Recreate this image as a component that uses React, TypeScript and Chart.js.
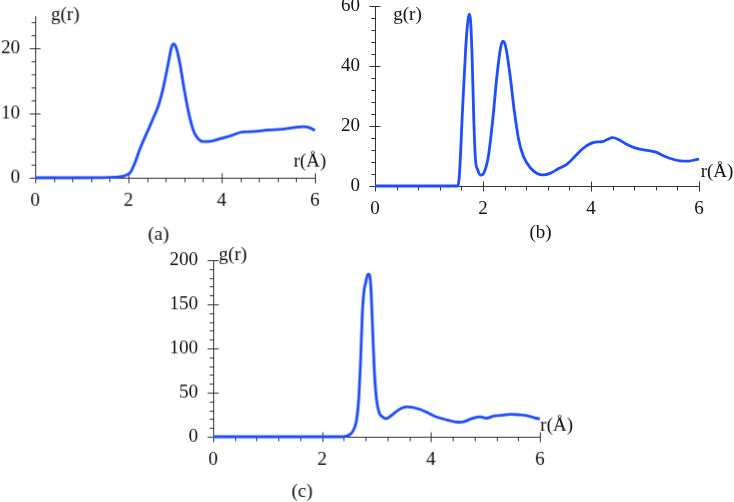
import React, { useEffect, useRef } from "react";
import { Chart, registerables } from "chart.js";

Chart.register(...registerables);

// ---------- data ----------
const xTickValues = [0, 2, 4, 6];

const rA = [0, 1.0, 1.6, 1.8, 1.95, 2.05, 2.15, 2.25, 2.4, 2.55, 2.65, 2.75, 2.85, 2.93, 2.97, 3.03, 3.1, 3.2, 3.3, 3.4, 3.5, 3.6, 3.8, 4.0, 4.2, 4.45, 4.7, 5.0, 5.3, 5.5, 5.75, 5.9, 6.0];
const gA = [0, 0, 0.05, 0.15, 0.4, 0.9, 2.5, 4.5, 7.0, 9.5, 11.3, 14.0, 17.5, 20.3, 20.7, 20.0, 17.8, 13.5, 9.8, 7.2, 6.0, 5.6, 5.7, 6.1, 6.5, 7.1, 7.15, 7.4, 7.5, 7.7, 7.9, 7.7, 7.3];
const yTicksA = [0, 10, 20];

const rB = [0, 1.52, 1.56, 1.62, 1.68, 1.72, 1.745, 1.77, 1.8, 1.83, 1.86, 1.9, 1.96, 2.02, 2.1, 2.18, 2.26, 2.33, 2.37, 2.42, 2.5, 2.58, 2.66, 2.75, 2.88, 3.0, 3.12, 3.25, 3.4, 3.55, 3.7, 3.85, 4.0, 4.12, 4.22, 4.3, 4.4, 4.5, 4.65, 4.8, 4.95, 5.1, 5.2, 5.35, 5.5, 5.65, 5.8, 5.9, 6.0];
const gB = [0, 0, 3, 25, 46, 55, 57.3, 55, 42, 22, 9, 5.5, 3.6, 4.5, 10, 22, 37, 46.5, 48.3, 46.5, 37, 25, 15.5, 9.8, 6, 4.2, 3.7, 4.3, 5.8, 7.2, 9.8, 12.5, 14.2, 14.7, 14.8, 15.5, 16.1, 15.6, 14, 12.8, 12.1, 11.7, 11.3, 10, 9, 8.4, 8.3, 8.6, 9.0];
const yTicksB = [0, 20, 40, 60];

const rC = [0, 2.38, 2.45, 2.52, 2.58, 2.63, 2.67, 2.71, 2.74, 2.77, 2.8, 2.84, 2.87, 2.9, 2.93, 2.96, 3.0, 3.05, 3.1, 3.17, 3.25, 3.35, 3.45, 3.55, 3.65, 3.8, 3.95, 4.1, 4.3, 4.5, 4.6, 4.75, 4.9, 5.02, 5.15, 5.3, 5.45, 5.6, 5.75, 5.9, 6.0];
const gC = [0, 0, 0.8, 3, 8, 18, 40, 90, 140, 165, 174, 184, 184, 165, 120, 75, 42, 27, 23, 20.5, 23, 28, 32, 34, 33.5, 31, 27, 22.5, 19, 16.5, 17, 20.5, 22.5, 21, 23.5, 24.2, 25.5, 25, 24, 21.5, 20];
const yTicksC = [0, 50, 100, 150, 200];

// ---------- style ----------
const FONT = '"Liberation Serif", "Times New Roman", serif';
const FONT_SIZE = 19;
const BLUE = "#1f4dff";
const AXIS = "#333333";
const TEXT = "#111111";

const PADL = 60, PADT = 30, PADR = 60, PADB = 80, YW = 60, XH = 30;

type Area = { l: number; r: number; t: number; b: number };
type Txt = { text: string; x: number; y: number };

type PanelProps = {
  area: Area;
  rs: number[];
  gs: number[];
  yMax: number;
  yTicks: number[];
  yMinor: number;
  texts: Txt[];
};

function Panel(p: PanelProps) {
  const ref = useRef<HTMLCanvasElement>(null);
  const w = p.area.r - p.area.l + PADL + PADR;
  const h = p.area.b - p.area.t + PADT + PADB;
  const offX = p.area.l - PADL;
  const offY = p.area.t - PADT;

  useEffect(() => {
    if (!ref.current) return;
    const decor = {
      id: "decor",
      beforeDatasetsDraw(chart: any) {
        const { ctx, chartArea, scales } = chart;
        const { left, right, top, bottom } = chartArea;
        const xs = scales.x, ys = scales.y;
        ctx.save();
        ctx.strokeStyle = AXIS;
        ctx.lineWidth = 1;
        const L = Math.round(left) + 0.5;
        const B = Math.round(bottom) + 0.5;
        ctx.beginPath();
        ctx.moveTo(L, Math.round(top));
        ctx.lineTo(L, B + 4);
        ctx.moveTo(L, B);
        ctx.lineTo(Math.round(right) + 0.5, B);
        // x ticks every 0.4, major every 2
        for (let i = 0; i <= 15; i++) {
          const v = i * 0.4;
          const px = Math.round(xs.getPixelForValue(v)) + 0.5;
          if (i % 5 === 0) {
            ctx.moveTo(px, B - 5);
            ctx.lineTo(px, B + 5);
          } else {
            ctx.moveTo(px, B);
            ctx.lineTo(px, B + 4);
          }
        }
        const major = p.yTicks[1] - p.yTicks[0];
        const n = Math.floor(p.yMax / p.yMinor + 1e-6);
        for (let i = 0; i <= n; i++) {
          const v = i * p.yMinor;
          const py = Math.round(ys.getPixelForValue(v)) + 0.5;
          const isMajor = Math.abs(v / major - Math.round(v / major)) < 1e-6;
          if (isMajor) {
            ctx.moveTo(L - 6, py);
            ctx.lineTo(L + 5, py);
          } else {
            ctx.moveTo(L - 4, py);
            ctx.lineTo(L, py);
          }
        }
        ctx.stroke();
        ctx.restore();
      },
      afterDraw(chart: any) {
        const { ctx } = chart;
        ctx.save();
        ctx.font = `${FONT_SIZE}px ${FONT}`;
        ctx.fillStyle = TEXT;
        ctx.textAlign = "center";
        ctx.textBaseline = "middle";
        p.texts.forEach((t) => ctx.fillText(t.text, t.x - offX, t.y - offY));
        ctx.restore();
      },
    };

    const chart = new Chart(ref.current, {
      type: "line",
      data: {
        datasets: [
          {
            data: p.rs.map((x, i) => ({ x, y: p.gs[i] })),
            borderColor: BLUE,
            borderWidth: 2.8,
            pointRadius: 0,
            cubicInterpolationMode: "monotone",
            fill: false,
            clip: false as any,
          },
        ],
      },
      options: {
        responsive: false,
        animation: false,
        devicePixelRatio: 1,
        events: [],
        layout: { padding: { left: PADL - YW, top: PADT, right: PADR, bottom: PADB - XH } },
        plugins: { legend: { display: false }, tooltip: { enabled: false }, title: { display: false } },
        scales: {
          x: {
            type: "linear",
            min: 0,
            max: 6,
            afterBuildTicks: (s: any) => {
              s.ticks = xTickValues.map((v) => ({ value: v }));
            },
            afterFit: (s: any) => {
              s.height = XH;
            },
            grid: { display: false, drawTicks: false },
            border: { display: false },
            ticks: {
              font: { family: FONT, size: FONT_SIZE },
              color: TEXT,
              padding: 12,
              maxRotation: 0,
              autoSkip: false,
            },
          },
          y: {
            type: "linear",
            min: 0,
            max: p.yMax,
            afterBuildTicks: (s: any) => {
              s.ticks = p.yTicks.map((v) => ({ value: v }));
            },
            afterFit: (s: any) => {
              s.width = YW;
            },
            grid: { display: false, drawTicks: false },
            border: { display: false },
            ticks: {
              font: { family: FONT, size: FONT_SIZE },
              color: TEXT,
              padding: 15,
              autoSkip: false,
            },
          },
        },
      },
      plugins: [decor],
    } as any);
    return () => chart.destroy();
  }, []);

  return (
    <canvas
      ref={ref}
      width={w}
      height={h}
      style={{ position: "absolute", left: offX, top: offY, width: w, height: h }}
    />
  );
}

export default function App() {
  return (
    <div
      style={{
        position: "fixed",
        left: 0,
        top: 0,
        width: 734,
        height: 502,
        overflow: "hidden",
        background: "#ffffff",
      }}
    >
      <Panel
        area={{ l: 35, r: 314.5, t: 16, b: 177.5 }}
        rs={rA}
        gs={gA}
        yMax={25}
        yTicks={yTicksA}
        yMinor={2}
        texts={[
          { text: "g(r)", x: 65, y: 15 },
          { text: "r(Å)", x: 309, y: 161 },
          { text: "(a)", x: 158, y: 234 },
        ]}
      />
      <Panel
        area={{ l: 374.5, r: 699.3, t: 6, b: 186 }}
        rs={rB}
        gs={gB}
        yMax={60}
        yTicks={yTicksB}
        yMinor={4}
        texts={[
          { text: "g(r)", x: 407, y: 15 },
          { text: "r(Å)", x: 716.5, y: 172 },
          { text: "(b)", x: 540, y: 233 },
        ]}
      />
      <Panel
        area={{ l: 213.3, r: 540, t: 260, b: 436.5 }}
        rs={rC}
        gs={gC}
        yMax={200}
        yTicks={yTicksC}
        yMinor={10}
        texts={[
          { text: "g(r)", x: 233, y: 255 },
          { text: "r(Å)", x: 556, y: 425 },
          { text: "(c)", x: 302, y: 491 },
        ]}
      />
    </div>
  );
}
